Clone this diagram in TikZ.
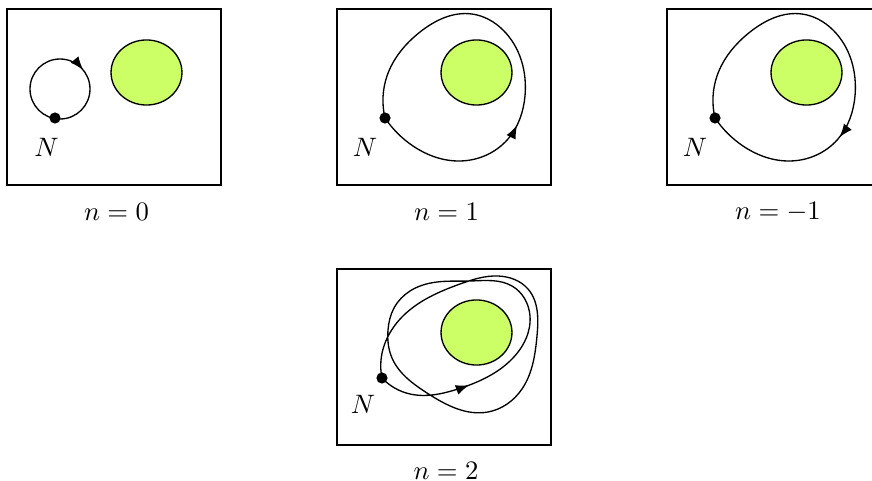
\documentclass[tikz,border=0pt]{standalone}
\usetikzlibrary{arrows.meta,decorations.markings,shapes.geometric,hobby}
\definecolor{lime}{RGB}{204,255,102}
\tikzset{
  panel/.style={draw, line width=0.45pt, minimum width=80.25pt, minimum height=66pt, inner sep=0pt},
  blob/.style={ellipse, draw, line width=0.5pt, fill=lime, minimum width=26.6pt, minimum height=24.4pt, inner sep=0pt},
  dotnode/.style={circle, fill=black, minimum size=4.2pt, inner sep=0pt},
  orbit/.style={line width=0.5pt},
  lbl/.style={inner sep=0pt},
  tipat/.style={postaction=decorate, decoration={markings, mark=at position #1 with {\arrow{Latex[length=5pt,width=3.8pt]}}}},
  tipback/.style={postaction=decorate, decoration={markings, mark=at position #1 with {\arrowreversed{Latex[length=5pt,width=3.8pt]}}}}
}
\begin{document}
\begin{tikzpicture}[x=0.375pt,y=-0.375pt]
\useasboundingbox (0,0) rectangle (872,481);
\clip (0,0) rectangle (872,481);

% boxes
\node[panel] (b0) at (114,97) {};
\node[panel] (b1) at (444,97) {};
\node[panel] (b2) at (774,97) {};
\node[panel] (b3) at (444,357) {};

% obstacles
\node[blob] (e0) at (146.5,72.5) {};
\node[blob] (e1) at (476.5,72.5) {};
\node[blob] (e2) at (806.5,72.5) {};
\node[blob] (e3) at (476.5,332.5) {};

% base points
\node[dotnode] (d0) at (55,118) {};
\node[dotnode] (d1) at (385,118) {};
\node[dotnode] (d2) at (715,118) {};
\node[dotnode] (d3) at (382,378) {};

% n = 0
\coordinate (c0) at (60,89);
\draw[orbit, tipback=0.11] (c0) circle[radius=11.25pt];

% n = 1
\draw[orbit, tipat=60.3pt, use Hobby shortcut] (d1.center) .. (413,146) .. (460,161) .. (508,139) .. (525,96) .. (503,30) .. (472,14) .. (420,32) .. (387,76) .. (d1.center);

% n = -1
\draw[orbit, tipback=55pt, use Hobby shortcut] (d2.center) .. (743,146) .. (790,161) .. (838,139) .. (855,96) .. (833,30) .. (802,14) .. (750,32) .. (717,76) .. (d2.center);

% n = 2
\draw[orbit, tipat=35pt, use Hobby shortcut] (d3.center) .. (410,394) .. (458,389) .. (512,359) .. (530,316) .. (512,286) .. (470,281) .. (437,282) .. (410,291) .. (394,308) .. (388,330) .. (392,358) .. (427,393) .. (488,412) .. (522,389) .. (537,336) .. (528,289) .. (498,276) .. (460,284) .. (403,316) .. (381,360) .. (d3.center);

% labels
\node[lbl] (N0) at (46.5,147.5) {$N$};
\node[lbl] (N1) at (365,147.5) {$N$};
\node[lbl] (N2) at (695,147.5) {$N$};
\node[lbl] (N3) at (363,404) {$N$};
\node[lbl] (t0) at (116.5,212) {$n=0$};
\node[lbl] (t1) at (446.5,212) {$n=1$};
\node[lbl] (t2) at (778,212) {$n=-1$};
\node[lbl] (t3) at (446,471) {$n=2$};
\end{tikzpicture}
\end{document}
